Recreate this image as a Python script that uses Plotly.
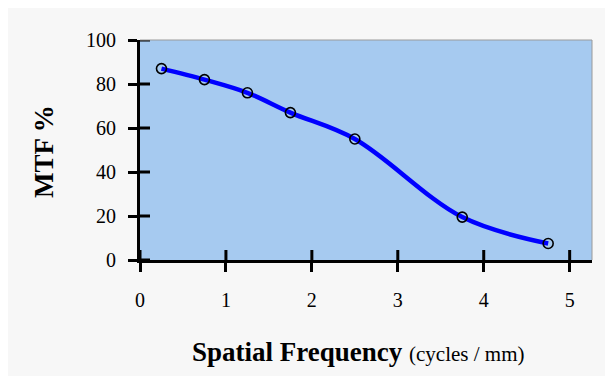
import plotly.graph_objects as go

freq = [0.25, 0.75, 1.25, 1.75, 2.5, 3.75, 4.75]
mtf = [87, 82, 76, 67, 55, 19.5, 7.5]
x_ticks = [0, 1, 2, 3, 4, 5]
y_ticks = [0, 20, 40, 60, 80, 100]

X_RANGE = [0, 5.26]
Y_RANGE = [0, 100]
FONT = "Liberation Serif, Times New Roman, serif"

# The page body has an 8px margin, so the figure itself starts at (8, 8).
OX, OY = 8, 8
W, H = 600, 368
L, T, R, B = 140 - OX, 40 - OY, (OX + W) - 592, (OY + H) - 260
PW, PH = W - L - R, H - T - B
TICK_IN = 10

fig = go.Figure()
fig.add_trace(go.Scatter(
    x=freq, y=mtf, mode="lines",
    line=dict(color="#0000ff", width=4.5, shape="spline", smoothing=1.0),
    hoverinfo="skip", showlegend=False,
))
fig.add_trace(go.Scatter(
    x=freq, y=mtf, mode="markers",
    marker=dict(symbol="circle-open", size=10, color="#000000", line=dict(width=1.6, color="#000000")),
    showlegend=False,
))

tickfont = dict(family=FONT, size=20, color="#000000")
common = dict(showgrid=False, zeroline=False, fixedrange=True)

# inner halves of the "cross" tick marks, placed on the axes' own scales
ymin, ymax = Y_RANGE
xmin, xmax = X_RANGE
shapes = []
for v in x_ticks:
    shapes.append(dict(type="line", xref="x", yref="y", layer="above",
                       x0=v, x1=v, y0=ymin, y1=ymin + (ymax - ymin) * TICK_IN / PH,
                       line=dict(color="#000000", width=3)))
for v in y_ticks:
    shapes.append(dict(type="line", xref="x", yref="y", layer="above",
                       x0=xmin, x1=xmin + (xmax - xmin) * TICK_IN / PW, y0=v, y1=v,
                       line=dict(color="#000000", width=3)))
# thin grey frame on the top and right of the plot area
shapes += [
    dict(type="line", xref="paper", yref="paper", layer="above",
         x0=0, x1=1, y0=1, y1=1, line=dict(color="#9a9a9a", width=1)),
    dict(type="line", xref="paper", yref="paper", layer="above",
         x0=1, x1=1, y0=0, y1=1, line=dict(color="#9a9a9a", width=1)),
]

fig.update_layout(
    width=W, height=H,
    margin=dict(l=L, r=R, t=T, b=B),
    paper_bgcolor="#f7f7f7",
    plot_bgcolor="#a6caf0",
    xaxis=dict(range=X_RANGE, tickvals=x_ticks, ticktext=[str(v) for v in x_ticks],
               ticks="outside", ticklen=9, tickwidth=3, tickcolor="#000000",
               showline=True, linecolor="#000000", linewidth=3,
               tickfont=tickfont, ticklabelstandoff=11, **common),
    yaxis=dict(range=Y_RANGE, tickvals=y_ticks, ticktext=[str(v) for v in y_ticks],
               ticks="outside", ticklen=9, tickwidth=3, tickcolor="#000000",
               showline=True, linecolor="#000000", linewidth=3,
               tickfont=tickfont, ticklabelstandoff=8, **common),
    shapes=shapes,
    annotations=[
        dict(xref="paper", yref="paper", x=(358 - 140) / PW, y=(260 - 352) / PH,
             xanchor="center", yanchor="middle", showarrow=False,
             text="<b>Spatial Frequency</b> <span style='font-size:21px'>(cycles / mm)</span>",
             font=dict(family=FONT, size=27, color="#000000")),
        dict(xref="paper", yref="paper", x=(44 - 140) / PW, y=(260 - 152) / PH,
             xanchor="center", yanchor="middle", showarrow=False, textangle=-90,
             text="<b>MTF %</b>",
             font=dict(family=FONT, size=27, color="#000000")),
    ],
)

fig.write_html("out.html")
